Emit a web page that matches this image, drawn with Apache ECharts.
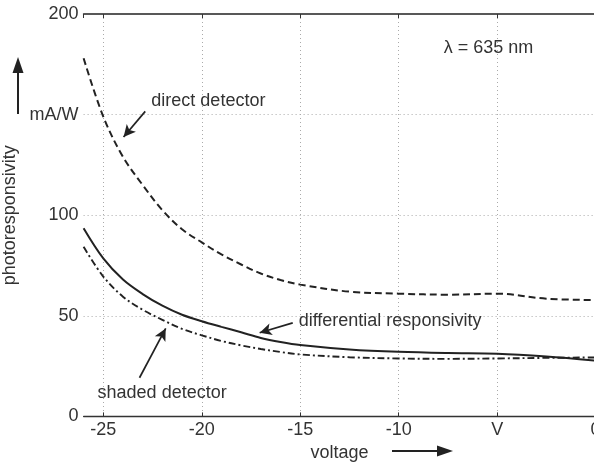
<!DOCTYPE html>
<html><head><meta charset="utf-8">
<script src="https://cdn.jsdelivr.net/npm/echarts@6/dist/echarts.min.js"></script>
<style>html,body{margin:0;padding:0;background:#fff}#c{width:594px;height:462px}</style>
</head><body><div id="c"></div>
<script>
// ---- data ----
const voltage      = [-26, -25, -24, -23, -22, -21, -20, -19, -18, -17, -16, -15, -12.5, -10, -7.5, -5, -2.5, 0];
const direct       = [178, 149, 129, 115, 102.5, 93, 86.5, 80.5, 75.5, 71, 67.8, 65.5, 62, 61, 60.5, 61, 58.5, 57.8];
const differential = [93.5, 78.5, 68, 60.8, 55, 50.5, 47.3, 44.5, 41.8, 39, 37, 35.5, 33.3, 32.1, 31.5, 31.2, 29.8, 27.7];
const shaded       = [84.3, 69.5, 59.5, 53, 48, 43.5, 40.3, 37.5, 35.3, 33.5, 32, 30.8, 29.4, 28.8, 28.6, 28.8, 29.1, 29.3];
const xTickLabels  = {'-5': 'V'};
const yTickLabels  = {'150': 'mA/W'};
const xName = 'voltage';
const yName = 'photoresponsivity';
// annotation texts (data coordinates of left/middle anchor)
const noteTexts  = ['direct detector', 'differential responsivity', 'shaded detector', 'λ = 635 nm'];
const noteAnchor = [[-22.56, 156.8], [-15.08, 47.4], [-25.29, 11.8], [-7.71, 182.9]];
// annotation arrows [from, to] in data coordinates
const arrowFrom = [[-22.87, 151.6], [-15.38, 46.5], [-23.16, 19.2]];
const arrowTo   = [[-23.97, 138.9], [-17.06, 41.6], [-21.83, 43.7]];

const INK = '#222';
const FONT = '"Liberation Sans", Arial, sans-serif';
const chart = echarts.init(document.getElementById('c'), null, {renderer: 'canvas'});

const pairs = arr => voltage.map((v, i) => [v, arr[i]]);
const baseX = {
  type: 'value', min: -26, max: 0, minInterval: 5, maxInterval: 5, splitNumber: 5,
  axisLine: {show: true, onZero: false, lineStyle: {color: '#333', width: 1.3}},
  axisTick: {show: true, inside: true, length: 4, lineStyle: {color: '#333'}},
};
const option = {
  animation: false,
  backgroundColor: '#fff',
  textStyle: {fontFamily: FONT},
  grid: {left: 83.6, right: -1.6, top: 14, bottom: 45.6, containLabel: false, outerBoundsMode: 'none'},
  xAxis: [
    Object.assign({}, baseX, {
      position: 'bottom',
      name: xName, nameLocation: 'middle', nameGap: 25,
      nameTextStyle: {fontSize: 18, color: '#333', fontFamily: FONT},
      axisLabel: {show: true, showMinLabel: false, margin: 5, fontSize: 18, color: '#333', fontFamily: FONT,
        formatter: v => (xTickLabels[String(v)] !== undefined ? xTickLabels[String(v)] : String(v))},
      splitLine: {show: true, showMinLine: false, showMaxLine: false, lineStyle: {color: '#aaa', width: 1, type: [1, 3]}}
    }),
    Object.assign({}, baseX, {
      position: 'top', axisLabel: {show: false}, splitLine: {show: false},
      axisLine: {show: true, onZero: false, lineStyle: {color: '#222', width: 1.6}}
    })
  ],
  yAxis: {
    type: 'value', min: 0, max: 200, interval: 50,
    name: yName, nameLocation: 'middle', nameGap: 58, nameRotate: 90,
    nameTextStyle: {fontSize: 18, color: '#333', fontFamily: FONT},
    axisLine: {show: true, lineStyle: {color: '#333', width: 1.3}},
    axisTick: {show: true, inside: true, length: 4, lineStyle: {color: '#333'}},
    axisLabel: {margin: 5, fontSize: 18, color: '#333', fontFamily: FONT,
      formatter: v => (yTickLabels[String(v)] !== undefined ? yTickLabels[String(v)] : String(v))},
    splitLine: {show: true, showMinLine: false, showMaxLine: false, lineStyle: {color: '#aaa', width: 1, type: [1, 3]}}
  },
  series: [
    {name: 'direct detector', type: 'line', data: pairs(direct), smooth: 0.35, showSymbol: false,
     lineStyle: {color: INK, width: 2, type: [7, 4]},
     markLine: {silent: true, symbol: ['none', 'arrow'], symbolSize: [9, 12],
       lineStyle: {type: 'solid', color: INK, width: 1.7}, label: {show: false},
       data: arrowFrom.map((f, i) => [{coord: f}, {coord: arrowTo[i]}])}},
    {name: 'differential responsivity', type: 'line', data: pairs(differential), smooth: 0.35, showSymbol: false,
     lineStyle: {color: INK, width: 2, type: 'solid'}},
    {name: 'shaded detector', type: 'line', data: pairs(shaded), smooth: 0.35, showSymbol: false,
     lineStyle: {color: INK, width: 1.9, type: [7, 3, 2, 3]}}
  ]
};
chart.setOption(option);

const graphics = noteTexts.map((t, i) => {
  const p = chart.convertToPixel({gridIndex: 0}, noteAnchor[i]);
  return {type: 'text', x: p[0], y: p[1], z: 100,
    style: {text: t, fill: '#333', font: '18px ' + FONT, textAlign: 'left', textVerticalAlign: 'middle'}};
});
// axis direction arrows (decorations next to axis names)
graphics.push(
  {type: 'line', shape: {x1: 18, y1: 114, x2: 18, y2: 70}, style: {stroke: INK, lineWidth: 2}},
  {type: 'polygon', shape: {points: [[18, 57], [12.5, 73], [23.5, 73]]}, style: {fill: INK}},
  {type: 'line', shape: {x1: 392, y1: 451, x2: 440, y2: 451}, style: {stroke: INK, lineWidth: 2}},
  {type: 'polygon', shape: {points: [[453, 451], [437, 445.5], [437, 456.5]]}, style: {fill: INK}}
);
chart.setOption({graphic: graphics});
</script>
</body></html>
